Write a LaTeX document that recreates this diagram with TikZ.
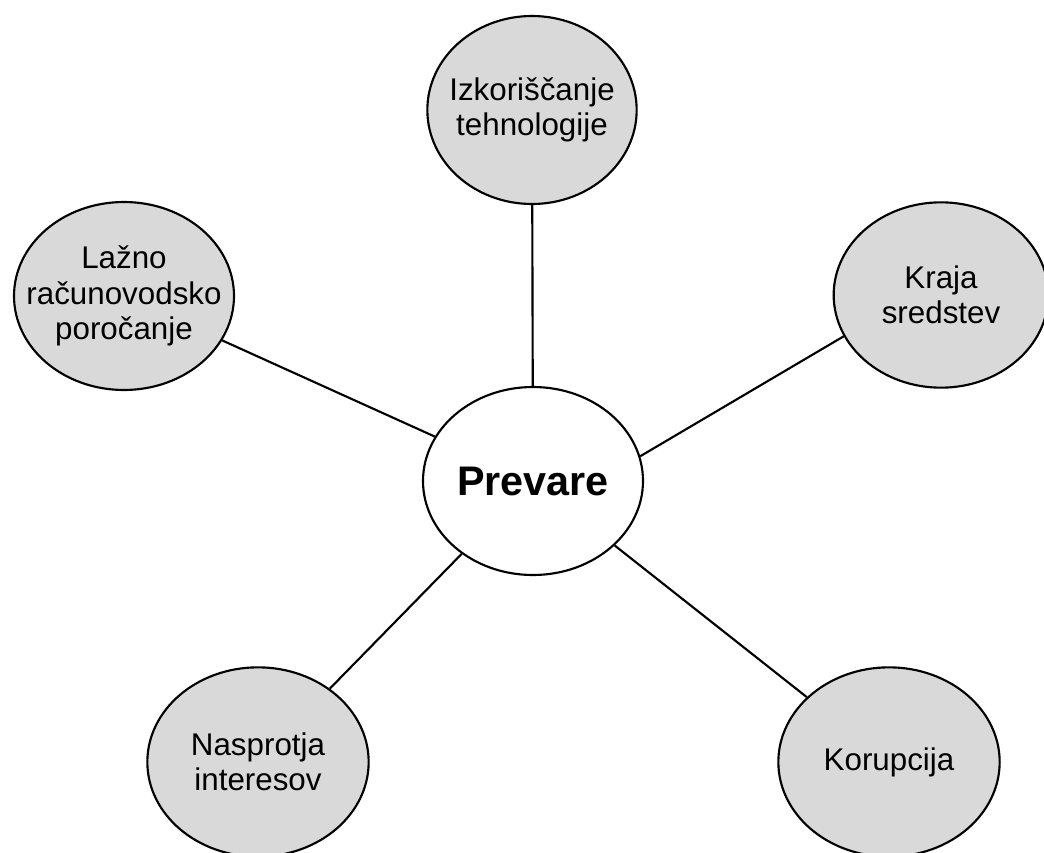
\documentclass[tikz,border=0pt]{standalone}
\usepackage{xcolor}
\usepackage{fontspec}
\setmainfont{Liberation Sans}
\usepackage{tikz}
\usetikzlibrary{shapes.geometric}
\definecolor{bubblegray}{RGB}{217,217,217}

\begin{document}
\begin{tikzpicture}[x=0.75pt, y=-0.75pt,
    bubble/.style = {ellipse, draw, line width=1.6pt, fill=bubblegray,
        minimum width=165pt, minimum height=141pt,
        inner xsep=-30pt, inner ysep=-10pt, align=center,
        font=\fontsize{23.5}{26.5}\selectfont},
    hub/.style = {bubble, fill=white, font=\fontsize{31}{32}\selectfont\bfseries},
    link/.style = {line width=1.6pt},
]
\useasboundingbox (0,0) rectangle (1044,852);
\clip (0,0) rectangle (1044,852);

\node[hub] (prevare) at (533,481) {Prevare};

\node[bubble, minimum width=157pt] (tehnologija) at (532,110) {Izkoriščanje\\tehnologije};
\node[bubble] (porocanje) at (124,296) {Lažno\\računovodsko\\poročanje};
\node[bubble, minimum width=161pt, minimum height=139pt] (kraja) at (941,295) {Kraja\\sredstev};
\node[bubble, minimum width=166pt, minimum height=142pt] (interesi) at (258,762) {Nasprotja\\interesov};
\node[bubble, minimum width=166pt, minimum height=142pt] (korupcija) at (889,762) {Korupcija};

% povezave
\draw[link] (prevare) -- (tehnologija);
\draw[link] (prevare) -- (porocanje);
\draw[link] (prevare.13) -- (kraja.203);
\draw[link] (prevare) -- (interesi);
\draw[link] (prevare) -- (korupcija);
\end{tikzpicture}
\end{document}
